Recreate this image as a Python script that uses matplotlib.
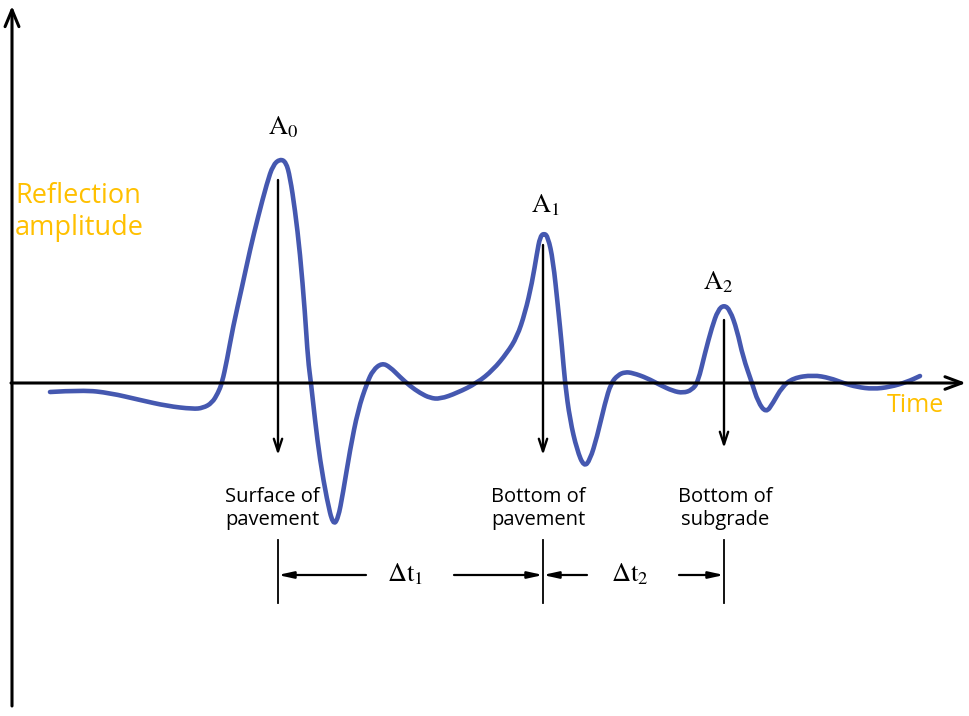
import matplotlib.pyplot as plt
from matplotlib.path import Path
from matplotlib.patches import PathPatch

plt.rcParams['mathtext.fontset'] = 'stix'

# waveform (pixel coordinates, y grows downward)
wave_x = [50, 83, 110, 140, 167, 193, 203, 212, 218, 222, 227, 233, 242, 250, 258, 267,
          273, 280, 286, 290, 295, 300, 305, 308, 311, 315, 320, 327, 333, 338, 343, 350,
          358, 367, 373, 382, 390, 400, 410, 420, 430, 440, 457, 477, 493, 507, 517, 525,
          532, 537, 540, 544, 548, 553, 558, 562, 565, 570, 577, 584, 590, 597, 605, 611,
          618, 625, 633, 647, 660, 673, 683, 692, 698, 705, 712, 718, 724, 730, 737, 743,
          752, 758, 766, 773, 782, 793, 813, 830, 843, 857, 873, 890, 907, 920]
wave_y = [392, 390, 393, 400, 406, 409, 408, 403, 393, 383, 360, 327, 287, 250, 217, 183,
          165, 159, 162, 177, 210, 253, 313, 360, 383, 420, 460, 500, 525, 519, 493, 450,
          410, 383, 370, 363, 367, 377, 386, 393, 398, 399, 393, 383, 370, 353, 337, 313,
          283, 253, 237, 233, 237, 260, 307, 347, 383, 420, 450, 467, 460, 437, 403, 383,
          375, 372, 373, 378, 385, 391, 393, 390, 382, 353, 327, 310, 305, 310, 330, 357,
          383, 402, 413, 403, 387, 378, 375, 378, 383, 387, 389, 387, 382, 376]

# reflection markers
peak_x = [278, 543, 724]
peak_top = [180, 245, 320]
peak_tip = [455, 455, 448]
peak_labels = [r'$\mathrm{A}_0$', r'$\mathrm{A}_1$', r'$\mathrm{A}_2$']
peak_label_pos = [(283, 127), (545, 205), (718, 282)]
layer_labels = ['Surface of\npavement', 'Bottom of\npavement', 'Bottom of\nsubgrade']
layer_label_x = [272, 538, 725]
dt_labels = [r'$\Delta\mathrm{t}_1$', r'$\Delta\mathrm{t}_2$']

blue = '#4558b0'
orange = '#ffc000'

fig = plt.figure(figsize=(9.69, 7.16), dpi=100)
ax = fig.add_axes([0, 0, 1, 1])
ax.set_xlim(0, 969)
ax.set_ylim(716, 0)
ax.axis('off')

# axes with open arrowheads
ax.annotate('', xy=(12, 6), xytext=(12, 706),
            arrowprops=dict(arrowstyle='->,head_length=1.2,head_width=0.5', lw=2.2,
                            color='black', shrinkA=0, shrinkB=0))
ax.annotate('', xy=(966, 383), xytext=(11, 383),
            arrowprops=dict(arrowstyle='->,head_length=1.2,head_width=0.45', lw=2.2,
                            color='black', shrinkA=0, shrinkB=0))

# smooth the read points with quadratic segments through the midpoints
pts = list(zip(wave_x, wave_y))
verts = [pts[0]]
codes = [Path.MOVETO]
for i in range(1, len(pts) - 1):
    mid = ((pts[i][0] + pts[i + 1][0]) / 2, (pts[i][1] + pts[i + 1][1]) / 2)
    verts += [pts[i], mid]
    codes += [Path.CURVE3, Path.CURVE3]
verts.append(pts[-1])
codes.append(Path.LINETO)
ax.add_patch(PathPatch(Path(verts, codes), facecolor='none', edgecolor=blue, lw=3.3,
                       capstyle='round', joinstyle='round'))

for x, top, tip in zip(peak_x, peak_top, peak_tip):
    ax.annotate('', xy=(x, tip), xytext=(x, top),
                arrowprops=dict(arrowstyle='->,head_length=0.9,head_width=0.3', lw=1.7,
                                color='black', shrinkA=0, shrinkB=0))

for lab, (x, y) in zip(peak_labels, peak_label_pos):
    ax.text(x, y, lab, fontsize=19, ha='center', va='center')

for lab, x in zip(layer_labels, layer_label_x):
    ax.text(x, 508, lab, fontsize=14.5, family='Open Sans', ha='center', va='center',
            linespacing=1.2)

# dimension lines
dim = dict(arrowstyle='-|>,head_length=0.9,head_width=0.2', lw=1.6, color='black',
           shrinkA=0, shrinkB=0)
for x in peak_x:
    ax.plot([x, x], [540, 603], color='black', lw=1.3)
ax.annotate('', xy=(278, 575), xytext=(366, 575), arrowprops=dim)
ax.annotate('', xy=(543, 575), xytext=(454, 575), arrowprops=dim)
ax.annotate('', xy=(543, 575), xytext=(587, 575), arrowprops=dim)
ax.annotate('', xy=(724, 575), xytext=(679, 575), arrowprops=dim)
ax.text(405, 574, dt_labels[0], fontsize=19, ha='center', va='center')
ax.text(630, 574, dt_labels[1], fontsize=19, ha='center', va='center')

ax.text(15, 212, 'Reflection\namplitude', fontsize=19.5, family='Open Sans', color=orange,
        ha='left', va='center', linespacing=1.15)
ax.text(915, 406, 'Time', fontsize=18, family='Open Sans', color=orange,
        ha='center', va='center')

fig.savefig('out.png', dpi=100)
